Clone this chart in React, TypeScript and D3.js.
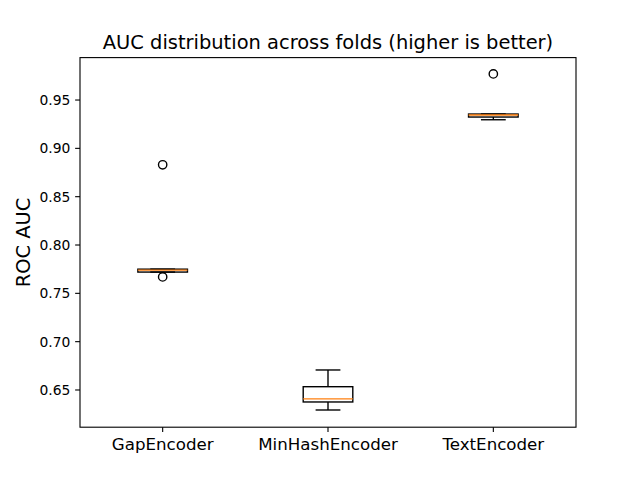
import React from "react";
import * as d3 from "d3";

const categories = ["GapEncoder", "MinHashEncoder", "TextEncoder"];
// [whiskerLow, q1, median, q3, whiskerHigh]
const boxStats = [
  [0.772, 0.772, 0.774, 0.775, 0.775],
  [0.6293, 0.6376, 0.6408, 0.6534, 0.6707],
  [0.9296, 0.9324, 0.9345, 0.9355, 0.9355],
];
const outliers = [[0.883, 0.767], [], [0.977]];
const yTicks = [0.65, 0.7, 0.75, 0.8, 0.85, 0.9, 0.95];

const W = 640, H = 480;
const L = 80, R = 576, T = 57.6, B = 427.2;
const font = "DejaVu Sans, sans-serif";

export default function App() {
  const x = d3.scaleLinear().domain([0.5, 3.5]).range([L, R]);
  const y = d3.scaleLinear().domain([0.6115, 0.9939]).range([B, T]);
  const boxW = x(0.3) - x(0);
  const capW = boxW / 2;
  const lw = 1.39;
  return (
    <svg width={W} height={H} style={{ position: "absolute", left: 0, top: 0, background: "#fff" }}>
      <rect x={0} y={0} width={W} height={H} fill="#fff" />
      {boxStats.map((s, i) => {
        const cx = x(i + 1);
        const [lo, q1, med, q3, hi] = s;
        return (
          <g key={i} fill="none" stroke="#000" strokeWidth={lw}>
            <line x1={cx} x2={cx} y1={y(q1)} y2={y(lo)} />
            <line x1={cx} x2={cx} y1={y(q3)} y2={y(hi)} />
            <line x1={cx - capW / 2} x2={cx + capW / 2} y1={y(lo)} y2={y(lo)} />
            <line x1={cx - capW / 2} x2={cx + capW / 2} y1={y(hi)} y2={y(hi)} />
            <rect x={cx - boxW / 2} y={y(q3)} width={boxW} height={y(q1) - y(q3)} />
            <line x1={cx - boxW / 2} x2={cx + boxW / 2} y1={y(med)} y2={y(med)} stroke="#ff7f0e" />
            {outliers[i].map((o, j) => (
              <circle key={j} cx={cx} cy={y(o)} r={4.17} />
            ))}
          </g>
        );
      })}
      <rect x={L} y={T} width={R - L} height={B - T} fill="none" stroke="#000" strokeWidth={1.11} />
      {yTicks.map((t) => (
        <g key={t}>
          <line x1={L} x2={L - 4.86} y1={y(t)} y2={y(t)} stroke="#000" strokeWidth={1.11} />
          <text x={L - 9.7} y={y(t)} dy="0.35em" textAnchor="end" fontFamily={font} fontSize={13.89}>
            {t.toFixed(2)}
          </text>
        </g>
      ))}
      {categories.map((c, i) => (
        <g key={c}>
          <line x1={x(i + 1)} x2={x(i + 1)} y1={B} y2={B + 4.86} stroke="#000" strokeWidth={1.11} />
          <text x={x(i + 1)} y={B + 9.7} dy="0.76em" textAnchor="middle" fontFamily={font} fontSize={16.67}>
            {c}
          </text>
        </g>
      ))}
      <text
        transform={`translate(29.5,${(T + B) / 2}) rotate(-90)`}
        textAnchor="middle"
        fontFamily={font}
        fontSize={19.44}
      >
        ROC AUC
      </text>
      <text x={(L + R) / 2} y={T - 8.33} textAnchor="middle" fontFamily={font} fontSize={19.44}>
        AUC distribution across folds (higher is better)
      </text>
    </svg>
  );
}
